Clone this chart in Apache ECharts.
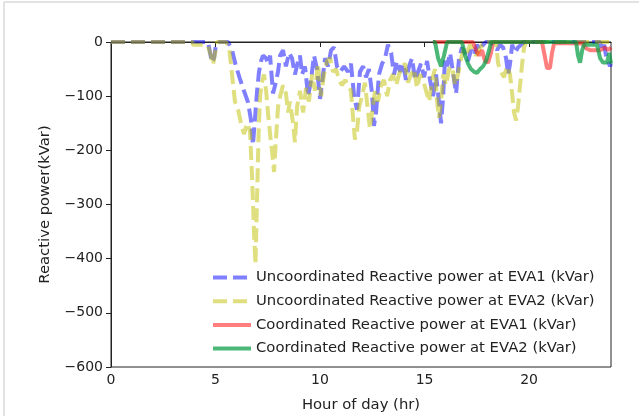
<!DOCTYPE html>
<html>
<head>
<meta charset="utf-8">
<script src="https://cdn.jsdelivr.net/npm/echarts@6/dist/echarts.min.js"></script>
<style>
  html, body { margin: 0; padding: 0; background: #fff; }
  #chart { width: 639px; height: 416px; }
</style>
</head>
<body>
<div id="chart"></div>
<script>
// hour of day / reactive power (kVar)
var uncoordEva1Hours = [0, 4.64, 4.74, 4.83, 4.93, 5.02, 5.12, 5.60, 5.79, 5.98, 6.17, 6.36, 6.56, 6.70, 6.79, 6.89, 6.99, 7.08, 7.18, 7.27, 7.42, 7.51, 7.61, 7.75, 7.85, 7.99, 8.09, 8.23, 8.37, 8.52, 8.66, 8.80, 8.95, 9.04, 9.14, 9.28, 9.43, 9.57, 9.71, 9.86, 10.00, 10.10, 10.24, 10.38, 10.53, 10.67, 10.81, 10.96, 11.15, 11.34, 11.48, 11.63, 11.77, 11.91, 12.06, 12.20, 12.34, 12.49, 12.58, 12.68, 12.82, 12.97, 13.11, 13.25, 13.40, 13.54, 13.68, 13.83, 13.97, 14.11, 14.26, 14.40, 14.55, 14.69, 14.83, 14.98, 15.12, 15.26, 15.41, 15.55, 15.69, 15.79, 15.89, 15.98, 16.08, 16.22, 16.36, 16.51, 16.65, 16.79, 16.94, 17.08, 17.22, 17.37, 17.51, 17.66, 17.80, 17.94, 18.13, 18.33, 18.47, 18.61, 18.76, 18.90, 19.00, 19.09, 19.19, 19.33, 19.47, 19.62, 19.76, 23.40, 23.49, 23.59, 23.68, 23.78, 23.87, 23.92];
var uncoordEva1Values = [0, 0, -20, -38, -30, -5, 0, 0, -15, -45, -68, -90, -112, -145, -190, -140, -90, -55, -35, -25, -30, -40, -25, -95, -80, -55, -25, -15, -45, -20, -30, -60, -35, -25, -60, -45, -100, -70, -25, -50, -105, -75, -30, -45, -15, -10, -45, -55, -45, -55, -40, -100, -125, -55, -45, -65, -50, -95, -155, -130, -60, -40, -30, -5, -20, -60, -35, -55, -40, -70, -45, -30, -70, -55, -40, -65, -35, -70, -100, -60, -110, -150, -100, -30, -45, -20, -55, -95, -30, -10, -20, -35, -15, -25, -5, -15, -5, 0, 0, -5, -15, -5, -10, -30, -60, -40, -5, -20, -10, -5, 0, 0, -15, -5, -25, -35, -45, -40];

var uncoordEva2Hours = [0, 3.90, 3.92, 4.50, 4.64, 4.78, 4.88, 4.98, 5.07, 5.50, 5.65, 5.79, 5.93, 6.08, 6.22, 6.36, 6.51, 6.65, 6.75, 6.84, 6.91, 6.98, 7.06, 7.13, 7.22, 7.32, 7.42, 7.51, 7.61, 7.70, 7.80, 7.89, 7.99, 8.09, 8.23, 8.37, 8.47, 8.56, 8.71, 8.80, 8.90, 9.04, 9.19, 9.33, 9.47, 9.62, 9.76, 9.90, 10.05, 10.19, 10.33, 10.48, 10.62, 10.77, 10.91, 11.05, 11.20, 11.34, 11.48, 11.58, 11.67, 11.77, 11.87, 12.01, 12.15, 12.30, 12.39, 12.49, 12.63, 12.77, 12.92, 13.06, 13.21, 13.35, 13.49, 13.64, 13.78, 13.92, 14.07, 14.21, 14.35, 14.50, 14.64, 14.78, 14.93, 15.07, 15.22, 15.36, 15.50, 15.60, 15.69, 15.79, 15.89, 16.03, 16.17, 16.32, 16.46, 16.60, 16.75, 16.89, 17.03, 17.18, 17.32, 17.46, 17.61, 17.75, 17.89, 18.42, 18.52, 18.66, 18.80, 18.95, 19.09, 19.19, 19.28, 19.38, 19.47, 19.57, 19.67, 19.76, 19.86, 23.92];
var uncoordEva2Values = [0, 0, -5, -5, -8, -25, -42, -20, 0, 0, -10, -60, -110, -125, -150, -170, -150, -165, -250, -350, -410, -300, -170, -100, -75, -60, -90, -130, -170, -200, -240, -180, -120, -100, -80, -95, -130, -110, -150, -185, -120, -90, -130, -85, -110, -60, -90, -40, -100, -60, -35, -30, -55, -50, -70, -80, -70, -80, -90, -140, -180, -165, -120, -100, -75, -130, -160, -130, -90, -110, -80, -70, -100, -70, -60, -80, -60, -45, -40, -75, -60, -50, -85, -60, -70, -90, -110, -70, -50, -110, -140, -110, -60, -80, -50, -45, -80, -60, -30, -10, -20, -5, -15, -25, -15, -5, 0, 0, -40, -55, -65, -45, -60, -95, -130, -145, -120, -80, -40, -10, 0, 0];

var coordEva1Hours = [15.40, 17.32, 17.46, 17.61, 17.75, 17.89, 18.04, 18.18, 18.28, 20.62, 20.77, 20.86, 21.00, 21.10, 21.20, 22.58, 22.73, 22.92, 23.40, 23.64, 23.78, 23.92];
var coordEva1Values = [0, 0, -15, -25, -15, -35, -38, -20, 0, 0, -30, -48, -48, -20, -2, -3, -12, -15, -15, -10, -15, -10];

var coordEva2Hours = [15.40, 15.50, 15.65, 15.79, 15.93, 16.08, 16.79, 16.94, 17.08, 17.22, 17.37, 17.51, 17.66, 17.80, 17.94, 18.09, 18.18, 22.25, 22.34, 22.44, 22.54, 22.63, 23.25, 23.40, 23.54, 23.73, 23.83, 23.92];
var coordEva2Values = [0, 0, -30, -45, -25, 0, 0, -25, -40, -50, -55, -57, -50, -45, -35, -15, 0, 0, -25, -38, -15, -5, -5, -30, -38, -38, -20, -40];

var xTicks = [0, 5, 10, 15, 20];

function pairs(hours, values) {
  return hours.map(function (h, i) { return [h, values[i]]; });
}

var chart = echarts.init(document.getElementById('chart'), null, { renderer: 'canvas' });
var font = 'DejaVu Sans';

var option = {
  animation: false,
  backgroundColor: '#fff',
  textStyle: { fontFamily: font },
  graphic: [
    { type: 'line', shape: { x1: 4, y1: 2, x2: 639, y2: 2 }, style: { stroke: '#d8d8d8', lineWidth: 1.5 } },
    { type: 'line', shape: { x1: 4, y1: 2, x2: 4, y2: 416 }, style: { stroke: '#d8d8d8', lineWidth: 1.5 } }
  ],
  grid: {
    left: 111,
    top: 42,
    width: 500,
    height: 325,
    outerBoundsMode: 'none',
    show: true,
    borderColor: '#222',
    borderWidth: 1,
    backgroundColor: 'transparent'
  },
  legend: {
    orient: 'vertical',
    left: 206,
    top: 264,
    itemWidth: 38,
    itemHeight: 12,
    itemGap: 6.7,
    itemStyle: { opacity: 0 },
    lineStyle: { width: 4 },
    textStyle: { fontFamily: font, fontSize: 14.8, color: '#222', lineHeight: 17 },
    data: [
      'Uncoordinated Reactive power at EVA1 (kVar)',
      'Uncoordinated Reactive power at EVA2 (kVar)',
      'Coordinated Reactive power at EVA1 (kVar)',
      'Coordinated Reactive power at EVA2 (kVar)'
    ]
  },
  xAxis: {
    type: 'value',
    min: 0,
    max: 23.92,
    name: 'Hour of day (hr)',
    nameLocation: 'middle',
    nameGap: 31,
    nameTextStyle: { fontFamily: font, fontSize: 14.8, color: '#222' },
    splitLine: { show: false },
    axisLine: { lineStyle: { color: '#222', width: 1 } },
    axisTick: { customValues: xTicks, length: 5, lineStyle: { color: '#222' } },
    axisLabel: { customValues: xTicks, fontFamily: font, fontSize: 14, color: '#222', margin: 6 }
  },
  yAxis: {
    type: 'value',
    min: -600,
    max: 0,
    interval: 100,
    name: 'Reactive power(kVar)',
    nameLocation: 'middle',
    nameGap: 58,
    nameTextStyle: { fontFamily: font, fontSize: 14.8, color: '#222' },
    splitLine: { show: false },
    axisLine: { show: true, lineStyle: { color: '#222', width: 1 } },
    axisTick: { show: true, length: 5, lineStyle: { color: '#222' } },
    axisLabel: {
      fontFamily: font, fontSize: 14, color: '#222', margin: 8,
      formatter: function (v) { return String(v).replace('-', '\u2212'); }
    }
  },
  series: [
    {
      name: 'Uncoordinated Reactive power at EVA1 (kVar)',
      type: 'line',
      data: pairs(uncoordEva1Hours, uncoordEva1Values),
      symbol: 'none',
      color: '#0000ff',
      lineStyle: { width: 4, type: [14, 6], opacity: 0.5, color: '#0000ff' },
      z: 2
    },
    {
      name: 'Uncoordinated Reactive power at EVA2 (kVar)',
      type: 'line',
      data: pairs(uncoordEva2Hours, uncoordEva2Values),
      symbol: 'none',
      color: '#bfbf00',
      lineStyle: { width: 4, type: [14, 6], opacity: 0.5, color: '#bfbf00' },
      z: 3
    },
    {
      name: 'Coordinated Reactive power at EVA1 (kVar)',
      type: 'line',
      data: pairs(coordEva1Hours, coordEva1Values),
      symbol: 'none',
      color: '#ff0000',
      lineStyle: { width: 4, opacity: 0.5, color: '#ff0000' },
      z: 4
    },
    {
      name: 'Coordinated Reactive power at EVA2 (kVar)',
      type: 'line',
      data: pairs(coordEva2Hours, coordEva2Values),
      symbol: 'none',
      color: '#009a3e',
      lineStyle: { width: 4, opacity: 0.7, color: '#009a3e' },
      z: 5
    }
  ]
};

chart.setOption(option);
</script>
</body>
</html>
